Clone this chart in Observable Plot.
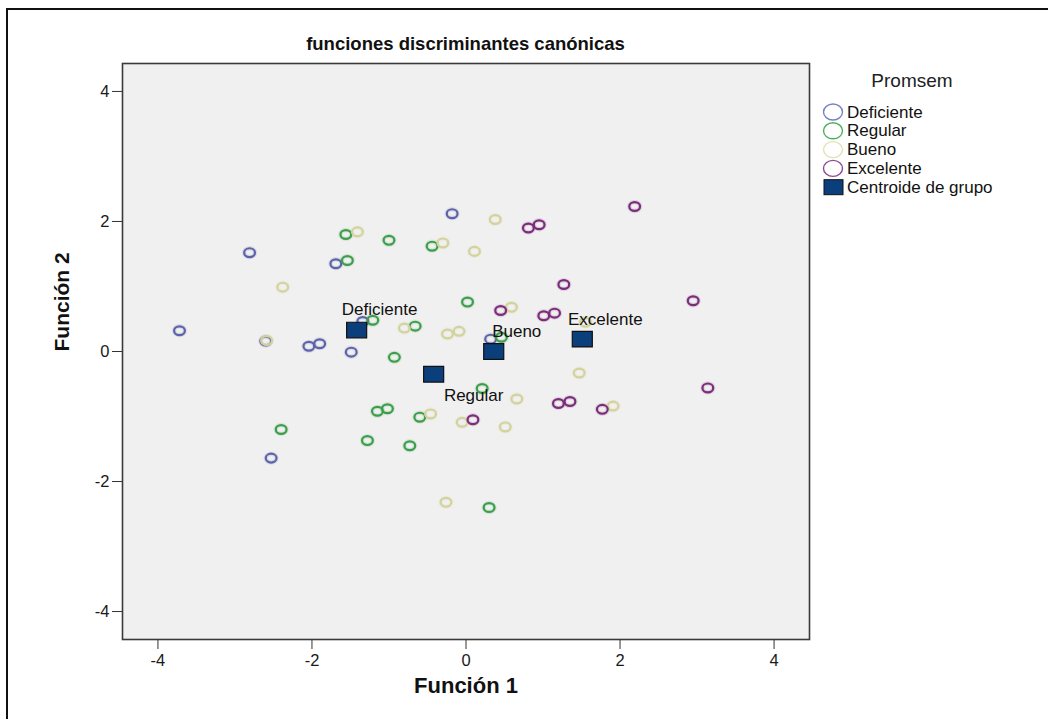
<!DOCTYPE html>
<html><head><meta charset="utf-8">
<script src="https://cdn.jsdelivr.net/npm/d3@7"></script>
<script src="https://cdn.jsdelivr.net/npm/@observablehq/plot@0.6"></script>
<style>
body{margin:0;background:#fff;font-family:"Liberation Sans",Arial,sans-serif;}
#wrap{position:relative;width:1048px;height:719px;overflow:hidden;background:#fff;}
#outer{position:absolute;left:6px;top:8px;width:1200px;height:900px;border-left:2px solid #111;border-top:2px solid #111;}
#chart{position:absolute;left:0;top:0;}
#title{position:absolute;top:33px;left:0;width:931px;text-align:center;font-weight:bold;font-size:18.5px;color:#111;line-height:22px;}
#legend{position:absolute;left:820px;top:60px;}
</style></head>
<body>
<div id="wrap">
  <div id="outer"></div>
  <div id="chart"></div>
  <div id="title">funciones discriminantes canónicas</div>
  <div id="legend"></div>
</div>
<script>
// ---- data ----
const groups = ["Deficiente", "Regular", "Bueno", "Excelente"];
const legendTitle = "Promsem";
const centroidLabel = "Centroide de grupo";
const xTicks = [-4, -2, 0, 2, 4];
const yTicks = [-4, -2, 0, 2, 4];

const deficienteX = [-0.18, -2.81, -1.69, -3.72, -2.60, -2.04, -1.90, -1.49, -2.53, 0.32, -1.34];
const deficienteY = [2.12, 1.52, 1.35, 0.32, 0.16, 0.08, 0.12, -0.01, -1.64, 0.19, 0.46];

const regularX = [-1.56, -1.00, -0.44, -1.54, 0.02, -1.21, -0.66, -0.93, 0.46, -2.40, -1.15, -1.02, -0.60, -1.28, -0.73, 0.21, 0.30];
const regularY = [1.80, 1.71, 1.62, 1.40, 0.76, 0.48, 0.39, -0.09, 0.22, -1.20, -0.92, -0.88, -1.01, -1.37, -1.45, -0.57, -2.40];

const buenoX = [-1.41, -0.30, -2.38, -0.80, -0.24, -0.09, 0.38, 0.11, 0.59, 1.55, 1.47, -0.46, -0.05, 0.66, 1.91, 0.51, -0.26, -2.59];
const buenoY = [1.84, 1.67, 0.99, 0.36, 0.27, 0.31, 2.03, 1.54, 0.68, 0.45, -0.33, -0.96, -1.09, -0.73, -0.84, -1.16, -2.32, 0.17];

const excelenteX = [0.81, 0.95, 2.19, 1.27, 2.95, 0.45, 1.01, 1.15, 1.20, 1.35, 1.77, 3.14, 0.09];
const excelenteY = [1.90, 1.95, 2.23, 1.03, 0.78, 0.63, 0.55, 0.59, -0.80, -0.77, -0.89, -0.56, -1.05];

const centroidX = [-1.42, -0.42, 0.36, 1.51];
const centroidY = [0.33, -0.35, 0.00, 0.19];

// ---- styles ----
const colors = ["#5c63a8", "#3c9e4c", "#d3d29c", "#7b2d79"];
const legendColors = ["#7a82c0", "#4caf5c", "#e3e0b6", "#8a4c8e"];
const centroidFill = "#0b3f7c";

const xs = [deficienteX, regularX, buenoX, excelenteX];
const ys = [deficienteY, regularY, buenoY, excelenteY];
const points = [];
groups.forEach((g, gi) => xs[gi].forEach((x, i) => points.push({group: g, x, y: ys[gi][i]})));
const centroids = groups.map((g, i) => ({group: g, x: centroidX[i], y: centroidY[i]}));

// slightly wide ellipse symbol (the reference is horizontally stretched)
const ellipse = {
  draw(ctx, size) {
    const r = Math.sqrt(size / Math.PI), rx = r * 1.1, ry = r * 0.9, k = 0.5523;
    ctx.moveTo(rx, 0);
    ctx.bezierCurveTo(rx, k * ry, k * rx, ry, 0, ry);
    ctx.bezierCurveTo(-k * rx, ry, -rx, k * ry, -rx, 0);
    ctx.bezierCurveTo(-rx, -k * ry, -k * rx, -ry, 0, -ry);
    ctx.bezierCurveTo(k * rx, -ry, rx, -k * ry, rx, 0);
    ctx.closePath();
  }
};
const wideSquare = {
  draw(ctx, size) {
    const s = Math.sqrt(size), w = s, h = s * 0.78;
    ctx.rect(-w / 2, -h / 2, w, h);
  }
};

const colorScale = {domain: groups, range: colors};

const chart = Plot.plot({
  width: 1048,
  height: 719,
  marginLeft: 122,
  marginRight: 239,
  marginTop: 63,
  marginBottom: 80,
  style: {fontFamily: "Liberation Sans, Arial, sans-serif", fontSize: "16px", color: "#1a1a1a", background: "transparent"},
  x: {domain: [-4.46, 4.46]},
  y: {domain: [-4.43, 4.43]},
  color: colorScale,
  marks: [
    Plot.frame({fill: "#f0f0f0"}),
    Plot.axisX({ticks: xTicks, tickSize: 10, tickPadding: 5, tickFormat: d => String(d), label: null, fontSize: 16, stroke: "#333"}),
    Plot.axisY({ticks: yTicks, tickSize: 10, tickPadding: 3, tickFormat: d => String(d), label: null, fontSize: 16, stroke: "#333"}),
    Plot.dot(points, {x: "x", y: "y", stroke: "group", symbol: ellipse, r: 4.9, strokeWidth: 4.5, strokeOpacity: 0.15}),
    Plot.dot(points, {x: "x", y: "y", stroke: "group", symbol: ellipse, r: 4.9, strokeWidth: 2.2}),
    Plot.dot(centroids, {x: "x", y: "y", symbol: wideSquare, r: 11.3, fill: centroidFill, stroke: "#111", strokeWidth: 1.2}),
    Plot.text(centroids.filter(d => d.group !== "Regular"), {x: "x", y: "y", text: "group", dx: 23, dy: -20, fontSize: 17, fill: "#111"}),
    Plot.text(centroids.filter(d => d.group === "Regular"), {x: "x", y: "y", text: "group", dx: 40, dy: 21, fontSize: 17, fill: "#111"}),
    Plot.frame({stroke: "#3a3a3a", strokeWidth: 1.6}),
    Plot.text(["Función 1"], {text: d => d, frameAnchor: "bottom", dy: 53, fontSize: 22, fontWeight: "bold", fill: "#111"}),
    Plot.text(["Función 2"], {text: d => d, frameAnchor: "left", dx: -60, rotate: -90, fontSize: 21, fontWeight: "bold", fill: "#111"})
  ]
});
chart.querySelectorAll('g[aria-label$="tick label"] text').forEach(t => { t.style.fontSize = "16.5px"; t.style.fill = "#1a1a1a"; });
document.getElementById("chart").appendChild(chart);

// ---- legend ----
const ns = "http://www.w3.org/2000/svg";
const lg = document.createElementNS(ns, "svg");
lg.setAttribute("width", 228);
lg.setAttribute("height", 145);
lg.style.fontFamily = "Liberation Sans, Arial, sans-serif";
function el(tag, attrs, text) {
  const e = document.createElementNS(ns, tag);
  for (const k in attrs) e.setAttribute(k, attrs[k]);
  if (text != null) e.textContent = text;
  lg.appendChild(e);
  return e;
}
el("text", {x: 92, y: 20, "text-anchor": "middle", "dominant-baseline": "central", "font-size": 19, fill: "#222"}, legendTitle);
const rowY = i => 52 + 18.8 * i;
groups.forEach((g, i) => {
  el("ellipse", {cx: 13, cy: rowY(i), rx: 9.5, ry: 8, fill: "none", stroke: legendColors[i], "stroke-width": 1.4});
  el("text", {x: 27, y: rowY(i), "dominant-baseline": "central", "font-size": 17, fill: "#111"}, g);
});
el("rect", {x: 4, y: rowY(4) - 7.5, width: 19, height: 15, fill: centroidFill, stroke: "#111", "stroke-width": 1});
el("text", {x: 27, y: rowY(4), "dominant-baseline": "central", "font-size": 17, fill: "#111"}, centroidLabel);
document.getElementById("legend").appendChild(lg);
</script>
</body></html>
